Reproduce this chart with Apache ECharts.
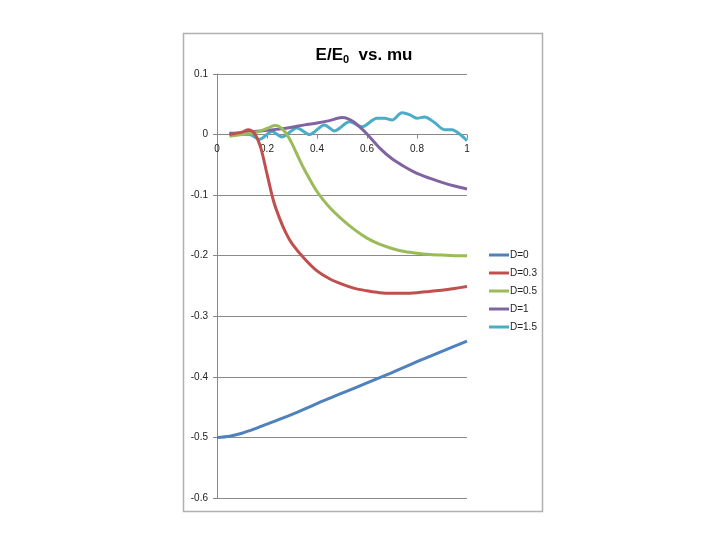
<!DOCTYPE html>
<html><head><meta charset="utf-8">
<script src="https://cdn.jsdelivr.net/npm/echarts@6/dist/echarts.min.js"></script>
<style>html,body{margin:0;padding:0;background:#fff}#c{width:720px;height:540px}</style>
</head><body><div id="c"></div>
<script>
var seriesNames = ['D=0', 'D=0.3', 'D=0.5', 'D=1', 'D=1.5'];
var xTicks = [0, 0.2, 0.4, 0.6, 0.8, 1];
var yTicks = [0.1, 0, -0.1, -0.2, -0.3, -0.4, -0.5, -0.6];

var xD0 = [0, 0.05, 0.1, 0.15, 0.2, 0.3, 0.4, 0.5, 0.6, 0.7, 0.8, 0.9, 1];
var yD0 = [-0.5, -0.498, -0.493, -0.486, -0.478, -0.462, -0.444, -0.427, -0.41, -0.393, -0.375, -0.358, -0.341];

var xD03 = [0.05, 0.1, 0.125, 0.15, 0.175, 0.2, 0.225, 0.25, 0.275, 0.3, 0.35, 0.4, 0.45, 0.5, 0.55, 0.6, 0.65, 0.7, 0.75, 0.8, 0.85, 0.9, 0.95, 1];
var yD03 = [0.0, 0.004, 0.008, 0.002, -0.022, -0.065, -0.108, -0.138, -0.162, -0.18, -0.205, -0.225, -0.238, -0.247, -0.254, -0.258, -0.261, -0.262, -0.262, -0.261, -0.259, -0.257, -0.254, -0.251];

var xD05 = [0.05, 0.1, 0.15, 0.2, 0.23, 0.25, 0.275, 0.3, 0.325, 0.35, 0.4, 0.45, 0.5, 0.55, 0.6, 0.65, 0.7, 0.75, 0.8, 0.85, 0.9, 0.95, 1];
var yD05 = [-0.003, 0.0, 0.003, 0.01, 0.015, 0.013, 0.003, -0.015, -0.037, -0.058, -0.094, -0.12, -0.14, -0.157, -0.171, -0.181, -0.188, -0.193, -0.196, -0.198, -0.199, -0.2, -0.2];

var xD1 = [0.05, 0.1, 0.15, 0.2, 0.25, 0.3, 0.35, 0.4, 0.45, 0.5, 0.525, 0.55, 0.575, 0.6, 0.65, 0.7, 0.75, 0.8, 0.85, 0.9, 0.95, 1];
var yD1 = [0.002, 0.003, 0.005, 0.007, 0.009, 0.012, 0.016, 0.019, 0.023, 0.028, 0.026, 0.02, 0.011, 0.001, -0.022, -0.04, -0.053, -0.064, -0.072, -0.079, -0.085, -0.09];

var xD15 = [0.05, 0.1, 0.13, 0.17, 0.22, 0.26, 0.32, 0.37, 0.43, 0.47, 0.53, 0.58, 0.64, 0.67, 0.7, 0.74, 0.77, 0.8, 0.83, 0.87, 0.91, 0.94, 0.97, 1];
var yD15 = [0.002, 0.0, 0.0, -0.008, 0.005, -0.004, 0.011, 0.0, 0.016, 0.006, 0.021, 0.013, 0.027, 0.027, 0.024, 0.036, 0.033, 0.027, 0.029, 0.02, 0.008, 0.008, 0.001, -0.01];

var colors = ['#4F81BD', '#C0504D', '#9BBB59', '#8064A2', '#4BACC6'];
var xs = [xD0, xD03, xD05, xD1, xD15];
var ys = [yD0, yD03, yD05, yD1, yD15];

function pairs(x, y) { return x.map(function (v, i) { return [v, y[i]]; }); }

var series = seriesNames.map(function (n, i) {
  return {
    name: n, type: 'line', data: pairs(xs[i], ys[i]),
    showSymbol: false, symbol: 'none', smooth: 0.3,
    lineStyle: { color: colors[i], width: 3 },
    itemStyle: { color: colors[i] },
    z: 10 - i
  };
});

var gridTop = 74, gridBottomPx = 498, yMin = -0.6, yMax = 0.1;
var zeroOffset = -(gridBottomPx - gridTop) * (0 - yMin) / (yMax - yMin);

var chart = echarts.init(document.getElementById('c'), null, { renderer: 'canvas' });
chart.setOption({
  animation: false,
  backgroundColor: '#fff',
  color: colors,
  graphic: [{
    type: 'rect', left: 181, top: 31, shape: { width: 359, height: 478 },
    style: { fill: 'none', stroke: '#b0b0b0', lineWidth: 1.5 }, silent: true, z: -1
  }],
  title: {
    text: 'E/E{s|0}  vs. mu', left: 359, top: 41, textAlign: 'center',
    textStyle: {
      fontFamily: 'Liberation Sans', fontSize: 17, fontWeight: 'bold', color: '#000',
      rich: { s: { fontFamily: 'Liberation Sans', fontSize: 11, fontWeight: 'bold', color: '#000', verticalAlign: 'bottom', padding: [8, 0, 0, 0] } }
    }
  },
  grid: { left: 217, right: 253, top: gridTop, bottom: 540 - gridBottomPx, containLabel: false },
  legend: {
    orient: 'vertical', left: 484, top: 244, itemWidth: 20, itemHeight: 3, itemGap: 6, icon: 'rect',
    data: seriesNames,
    textStyle: { fontFamily: 'Liberation Sans', fontSize: 10, color: '#222', lineHeight: 12, padding: [0, 0, 0, -4] }
  },
  xAxis: {
    type: 'value', min: 0, max: 1, interval: 0.2, position: 'bottom', offset: zeroOffset,
    axisLine: { onZero: false, lineStyle: { color: '#888', width: 1 } },
    axisTick: { show: true, inside: false, length: 4, lineStyle: { color: '#888' } },
    axisLabel: { fontFamily: 'Liberation Sans', fontSize: 10, color: '#222', margin: 10,
      formatter: function (v) { return String(+v.toFixed(1)); } },
    splitLine: { show: false }
  },
  yAxis: {
    type: 'value', min: yMin, max: yMax, interval: 0.1,
    axisLine: { show: true, lineStyle: { color: '#888', width: 1 } },
    axisTick: { show: true, length: 4, lineStyle: { color: '#888' } },
    axisLabel: { fontFamily: 'Liberation Sans', fontSize: 10, color: '#222', margin: 9,
      formatter: function (v) { var r = +v.toFixed(1); return r === 0 ? '0' : String(r); } },
    splitLine: { show: true, lineStyle: { color: '#8a8a8a', width: 1 } }
  },
  series: series
});
</script></body></html>
